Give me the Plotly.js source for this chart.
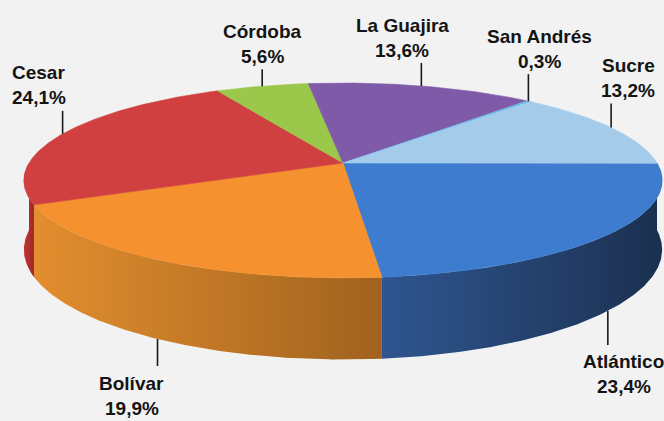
<!DOCTYPE html>
<html>
<head>
<meta charset="utf-8">
<script src="https://cdn.plot.ly/plotly-3.0.1.min.js"></script>
<style>
  html, body { margin: 0; padding: 0; background: #f2f2f2; }
  #chart { width: 664px; height: 421px; }
</style>
</head>
<body>
<div id="chart"></div>
<script>
// ---- data ----
const categories = ['Atlántico', 'Bolívar', 'Cesar', 'Córdoba', 'La Guajira', 'San Andrés', 'Sucre'];
const shares = [23.4, 19.9, 24.1, 5.6, 13.6, 0.3, 13.2];

// ---- styles ----
const topColors = ['#3d7ccf', '#f5922f', '#d14040', '#9bc74a', '#7f5aa8', '#4fb6e3', '#a5cbeb'];
const sideLeft  = ['#2f5690', '#e38e2f', '#c03434', '#7fa33a', '#66488a', '#3f92b6', '#86a6c2'];
const sideRight = ['#1b3050', '#a0621e', '#a02828', '#6a8a30', '#553c74', '#357ea0', '#7090aa'];
const leaderLen = [34, 27, 23, 17, 23, 27, 24];
const labelShift = [16, -26, -24, 0, -19, 11, 17];

// ---- geometry (projection of a tilted disc) ----
const CX = 343, CY = 163, R = 314, RY = 94.3, K = 0.179, D = 67;
const deg = Math.PI / 180;
function rim(t, drop) {
  const s = 1 / (1 - K * Math.sin(t));
  return [CX + R * Math.cos(t) * s, CY + RY * Math.sin(t) * s + drop * D * s];
}
function arc(a0, a1, drop) {
  const xs = [], ys = [];
  const n = Math.max(2, Math.ceil(Math.abs(a1 - a0) / (0.4 * deg)));
  for (let i = 0; i <= n; i++) {
    const p = rim(a0 + (a1 - a0) * i / n, drop);
    xs.push(p[0]); ys.push(p[1]);
  }
  return [xs, ys];
}

const total = shares.reduce((a, b) => a + b, 0);
const starts = [], ends = [];
let acc = 0;
shares.forEach(v => { starts.push(acc / total * 2 * Math.PI); acc += v; ends.push(acc / total * 2 * Math.PI); });

const traces = [];
// side walls (front half only)
shares.forEach((v, i) => {
  const a0 = Math.max(starts[i], 0), a1 = Math.min(ends[i], Math.PI);
  if (a1 <= a0) return;
  const top = arc(a0, a1, 0), bot = arc(a1, a0, 1);
  const xs = top[0].concat(bot[0]), ys = top[1].concat(bot[1]);
  xs.push(xs[0]); ys.push(ys[0]);
  traces.push({
    type: 'scatter', mode: 'lines', x: xs, y: ys, fill: 'toself',
    fillgradient: { type: 'horizontal', colorscale: [[0, sideLeft[i]], [1, sideRight[i]]] },
    line: { width: 0, color: sideRight[i] }, hoverinfo: 'skip'
  });
});
// top faces
shares.forEach((v, i) => {
  const a = arc(starts[i], ends[i], 0);
  const xs = [CX].concat(a[0], [CX]), ys = [CY].concat(a[1], [CY]);
  traces.push({
    type: 'scatter', mode: 'lines', x: xs, y: ys, fill: 'toself',
    fillcolor: topColors[i], line: { width: 0.6, color: topColors[i] }, hoverinfo: 'skip'
  });
});

// leader lines and labels
const font = { family: 'Liberation Sans, Arial, sans-serif', size: 19, color: '#141414', weight: 700 };
const annotations = [];
shares.forEach((v, i) => {
  const mid = (starts[i] + ends[i]) / 2;
  const front = Math.sin(mid) > 0;
  const p = rim(mid, front ? 1 : 0);
  const yEnd = front ? p[1] + leaderLen[i] : p[1] - leaderLen[i];
  traces.push({
    type: 'scatter', mode: 'lines', x: [p[0], p[0]], y: [p[1], yEnd],
    line: { width: 1.6, color: '#1a1a1a' }, hoverinfo: 'skip'
  });
  const pct = v.toFixed(1).replace('.', ',') + '%';
  const lines = front ? [[categories[i], -17], [pct, -42]] : [[categories[i], 38], [pct, 13]];
  lines.forEach(([txt, ys]) => {
    annotations.push({
      x: p[0], y: yEnd, xref: 'x', yref: 'y', text: txt, showarrow: false,
      xanchor: 'center', yanchor: 'middle', xshift: labelShift[i], yshift: ys, font: font
    });
  });
});

const layout = {
  width: 664, height: 421,
  margin: { l: 0, r: 0, t: 0, b: 0 },
  paper_bgcolor: '#f2f2f2', plot_bgcolor: '#f2f2f2',
  showlegend: false, hovermode: false,
  xaxis: { range: [0, 664], visible: false, fixedrange: true },
  yaxis: { range: [421, 0], visible: false, fixedrange: true },
  annotations: annotations
};
Plotly.newPlot('chart', traces, layout, { staticPlot: true, displayModeBar: false });
</script>
</body>
</html>
